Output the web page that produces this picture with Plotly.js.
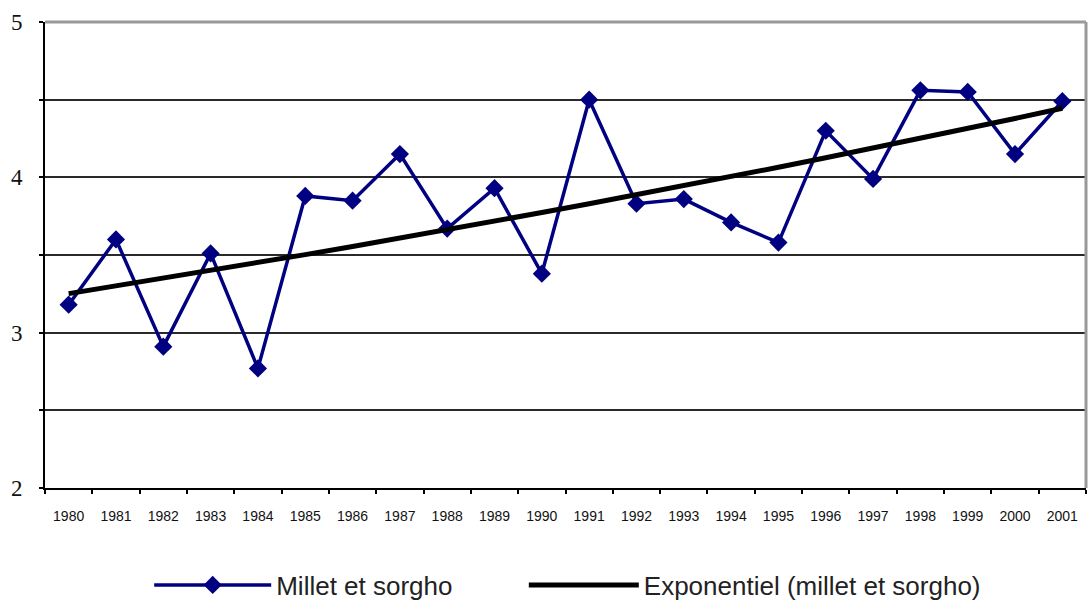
<!DOCTYPE html>
<html>
<head>
<meta charset="utf-8">
<script src="https://cdn.plot.ly/plotly-3.0.1.min.js"></script>
<style>html,body{margin:0;padding:0;background:#fff;}#chart{width:1089px;height:605px;}</style>
</head>
<body>
<div id="chart"></div>
<script>
const years = ['1980','1981','1982','1983','1984','1985','1986','1987','1988','1989','1990','1991','1992','1993','1994','1995','1996','1997','1998','1999','2000','2001'];
const milletSorgho = [3.18,3.60,2.91,3.51,2.77,3.88,3.85,4.15,3.67,3.93,3.38,4.50,3.83,3.86,3.71,3.58,4.30,3.99,4.56,4.55,4.15,4.49];
const yTickVals = [2,2.5,3,3.5,4,4.5,5];
const yTickText = ['2','','3','','4','','5'];
const seriesNames = ['Millet et sorgho','Exponentiel (millet et sorgho)'];

// Exponential least-squares trend (as in a spreadsheet "exponential" trendline)
function expTrend(vals){
  const n = vals.length;
  let sx=0, sy=0, sxx=0, sxy=0;
  vals.forEach((v,i)=>{const x=i+1, y=Math.log(v); sx+=x; sy+=y; sxx+=x*x; sxy+=x*y;});
  const b=(n*sxy-sx*sy)/(n*sxx-sx*sx);
  const a=(sy-b*sx)/n;
  return vals.map((v,i)=>Math.exp(a+b*(i+1)));
}
const trend = expTrend(milletSorgho);

const traces = [
  {x: years, y: milletSorgho, type:'scatter', mode:'lines+markers', name: seriesNames[0], legend:'legend',
   line:{color:'#000080', width:3.5}, marker:{symbol:'diamond', size:14, color:'#000080'}},
  {x: years, y: trend, type:'scatter', mode:'lines', name: seriesNames[1], legend:'legend2',
   line:{color:'#000000', width:5}}
];

const legendFont = {family:'Liberation Sans, Arial, sans-serif', size:26, color:'#222'};
const layout = {
  width:1089, height:605,
  margin:{l:45, r:3, t:22, b:117},
  paper_bgcolor:'#ffffff', plot_bgcolor:'#ffffff',
  showlegend:true,
  legend:{orientation:'h', xref:'container', yref:'container', x:0.137, xanchor:'left', y:0.033, yanchor:'middle',
    font:legendFont, itemwidth:117},
  legend2:{orientation:'h', xref:'container', yref:'container', x:0.481, xanchor:'left', y:0.033, yanchor:'middle',
    font:legendFont, itemwidth:110},
  xaxis:{type:'category', showgrid:false, zeroline:false,
    showline:true, linecolor:'#000', linewidth:2,
    ticks:'outside', tickson:'boundaries', ticklen:4, tickcolor:'#000', tickwidth:2,
    tickfont:{family:'Liberation Sans, Arial, sans-serif', size:14, color:'#111'},
    ticklabelstandoff:14,
    range:[-0.5,21.5], fixedrange:true},
  yaxis:{range:[2,5], tickvals:yTickVals, ticktext:yTickText,
    showgrid:true, gridcolor:'#2a2a2a', gridwidth:2, zeroline:false,
    showline:true, linecolor:'#000', linewidth:2,
    ticks:'outside', ticklen:4, tickcolor:'#000', tickwidth:2,
    tickfont:{family:'Liberation Serif, Times New Roman, serif', size:23, color:'#111'},
    ticklabelstandoff:12, fixedrange:true},
  shapes:[
    {type:'line', xref:'paper', yref:'paper', x0:0, x1:1, y0:1, y1:1, line:{color:'#999', width:3}, layer:'above'},
    {type:'line', xref:'paper', yref:'paper', x0:1, x1:1, y0:0, y1:1, line:{color:'#999', width:3}, layer:'above'}
  ]
};

Plotly.newPlot('chart', traces, layout, {displayModeBar:false, staticPlot:true});
</script>
</body>
</html>
